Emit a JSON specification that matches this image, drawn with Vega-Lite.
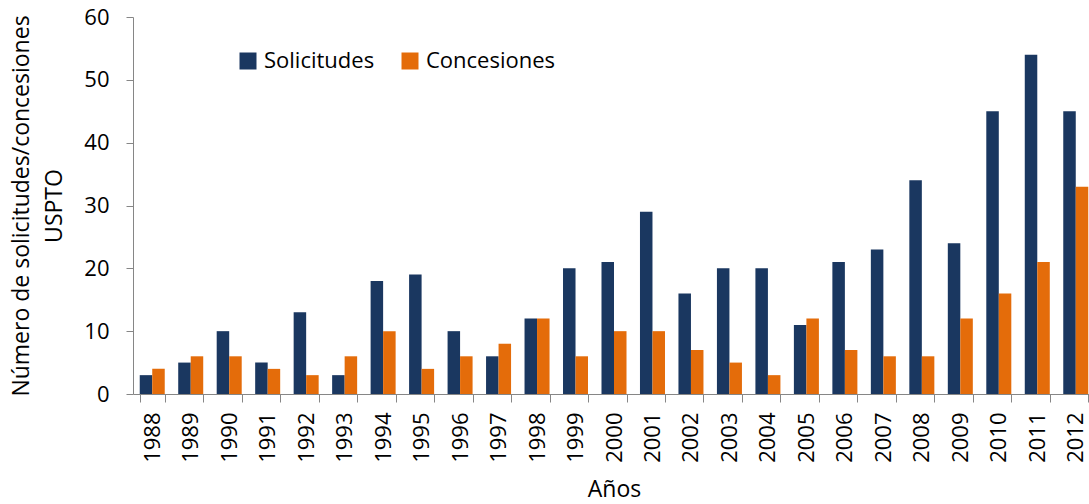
{
  "$schema": "https://vega.github.io/schema/vega-lite/v6.json",
  "width": 956,
  "height": 377,
  "autosize": {"type": "none"},
  "padding": {"left": 133, "top": 17, "right": 0, "bottom": 110},
  "background": "white",
  "config": {
    "view": {"stroke": null},
    "font": "Open Sans",
    "axis": {"domainColor": "#868686", "tickColor": "#868686", "labelColor": "#000000", "titleColor": "#000000", "grid": false, "titleFontWeight": "normal", "labelFont": "Open Sans", "titleFont": "Open Sans"}
  },
  "data": {
    "values": [
      {"year": "1988", "serie": "Solicitudes", "value": 3}, {"year": "1988", "serie": "Concesiones", "value": 4},
      {"year": "1989", "serie": "Solicitudes", "value": 5}, {"year": "1989", "serie": "Concesiones", "value": 6},
      {"year": "1990", "serie": "Solicitudes", "value": 10}, {"year": "1990", "serie": "Concesiones", "value": 6},
      {"year": "1991", "serie": "Solicitudes", "value": 5}, {"year": "1991", "serie": "Concesiones", "value": 4},
      {"year": "1992", "serie": "Solicitudes", "value": 13}, {"year": "1992", "serie": "Concesiones", "value": 3},
      {"year": "1993", "serie": "Solicitudes", "value": 3}, {"year": "1993", "serie": "Concesiones", "value": 6},
      {"year": "1994", "serie": "Solicitudes", "value": 18}, {"year": "1994", "serie": "Concesiones", "value": 10},
      {"year": "1995", "serie": "Solicitudes", "value": 19}, {"year": "1995", "serie": "Concesiones", "value": 4},
      {"year": "1996", "serie": "Solicitudes", "value": 10}, {"year": "1996", "serie": "Concesiones", "value": 6},
      {"year": "1997", "serie": "Solicitudes", "value": 6}, {"year": "1997", "serie": "Concesiones", "value": 8},
      {"year": "1998", "serie": "Solicitudes", "value": 12}, {"year": "1998", "serie": "Concesiones", "value": 12},
      {"year": "1999", "serie": "Solicitudes", "value": 20}, {"year": "1999", "serie": "Concesiones", "value": 6},
      {"year": "2000", "serie": "Solicitudes", "value": 21}, {"year": "2000", "serie": "Concesiones", "value": 10},
      {"year": "2001", "serie": "Solicitudes", "value": 29}, {"year": "2001", "serie": "Concesiones", "value": 10},
      {"year": "2002", "serie": "Solicitudes", "value": 16}, {"year": "2002", "serie": "Concesiones", "value": 7},
      {"year": "2003", "serie": "Solicitudes", "value": 20}, {"year": "2003", "serie": "Concesiones", "value": 5},
      {"year": "2004", "serie": "Solicitudes", "value": 20}, {"year": "2004", "serie": "Concesiones", "value": 3},
      {"year": "2005", "serie": "Solicitudes", "value": 11}, {"year": "2005", "serie": "Concesiones", "value": 12},
      {"year": "2006", "serie": "Solicitudes", "value": 21}, {"year": "2006", "serie": "Concesiones", "value": 7},
      {"year": "2007", "serie": "Solicitudes", "value": 23}, {"year": "2007", "serie": "Concesiones", "value": 6},
      {"year": "2008", "serie": "Solicitudes", "value": 34}, {"year": "2008", "serie": "Concesiones", "value": 6},
      {"year": "2009", "serie": "Solicitudes", "value": 24}, {"year": "2009", "serie": "Concesiones", "value": 12},
      {"year": "2010", "serie": "Solicitudes", "value": 45}, {"year": "2010", "serie": "Concesiones", "value": 16},
      {"year": "2011", "serie": "Solicitudes", "value": 54}, {"year": "2011", "serie": "Concesiones", "value": 21},
      {"year": "2012", "serie": "Solicitudes", "value": 45}, {"year": "2012", "serie": "Concesiones", "value": 33}
    ]
  },
  "mark": {"type": "bar", "clip": true},
  "encoding": {
    "x": {
      "field": "year", "type": "nominal", "sort": null,
      "scale": {"range": [0, 962], "paddingInner": 0.35, "paddingOuter": 0.175},
      "axis": {
        "title": "Años", "titleFontSize": 23, "titlePadding": 16,
        "labelAngle": -90, "labelFontSize": 22, "labelPadding": 10,
        "tickBand": "extent", "tickSize": 8, "labelAlign": "right", "labelBaseline": "middle"
      }
    },
    "xOffset": {"field": "serie", "type": "nominal", "sort": ["Solicitudes", "Concesiones"], "scale": {"paddingInner": 0, "paddingOuter": 0}},
    "y": {
      "field": "value", "type": "quantitative",
      "scale": {"domain": [0, 60], "nice": false},
      "axis": {
        "title": ["Número de solicitudes/concesiones", "USPTO"], "titleFontSize": 23, "titleLineHeight": 33,
        "titlePadding": 17, "values": [0, 10, 20, 30, 40, 50, 60], "labelFontSize": 22, "tickSize": 7, "labelPadding": 17
      }
    },
    "color": {
      "field": "serie", "type": "nominal",
      "scale": {"domain": ["Solicitudes", "Concesiones"], "range": ["#1a3760", "#e46c0a"]},
      "legend": {
        "title": null, "orient": "none", "direction": "horizontal", "legendX": 104, "legendY": 33,
        "symbolType": "square", "symbolSize": 289, "symbolStrokeWidth": 0, "symbolOpacity": 1,
        "labelFontSize": 22, "labelOffset": 5, "columnPadding": 24, "labelLimit": 300
      }
    }
  }
}
